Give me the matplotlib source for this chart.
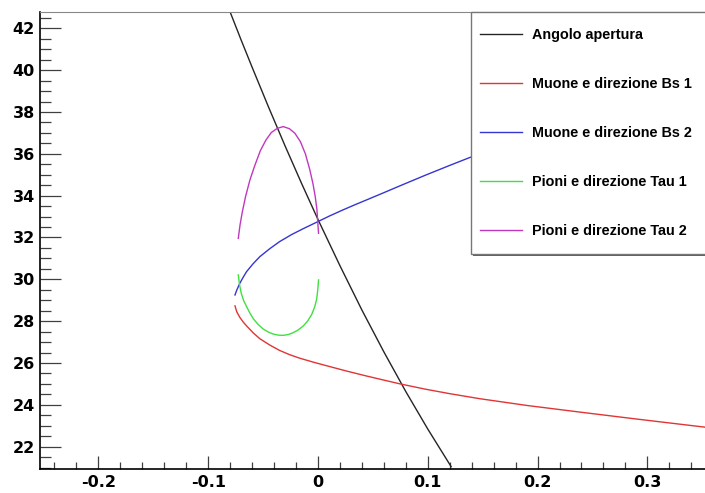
import matplotlib.pyplot as plt
from matplotlib.ticker import MultipleLocator
from matplotlib.patches import Rectangle

plt.rcParams['font.family'] = ['DejaVu Sans']
plt.rcParams['font.weight'] = 'bold'
plt.rcParams['axes.unicode_minus'] = False

# valori
x_angolo = [-0.0801, -0.0700, -0.0600, -0.0450, -0.0300, -0.0150, 0.0000, 0.0200, 0.0400,
            0.0600, 0.0800, 0.1000, 0.1213]
y_angolo = [42.79, 41.44, 40.14, 38.23, 36.38, 34.59, 32.86, 30.65, 28.53,
            26.53, 24.63, 22.84, 21.04]

x_bs1 = [-0.0756, -0.0740, -0.0712, -0.0680, -0.0650, -0.0590, -0.0530, -0.0440, -0.0350,
         -0.0260, -0.0168, -0.0030, 0.0105, 0.0270, 0.0439, 0.0600, 0.0747, 0.0975,
         0.1202, 0.1475, 0.1900, 0.2356, 0.2900, 0.3525]
y_bs1 = [28.73, 28.45, 28.18, 27.95, 27.77, 27.44, 27.16, 26.86, 26.60,
         26.40, 26.23, 26.02, 25.83, 25.60, 25.38, 25.18, 25.00, 24.75,
         24.53, 24.29, 23.97, 23.67, 23.32, 22.93]

x_bs2 = [-0.0756, -0.0740, -0.0712, -0.0680, -0.0650, -0.0590, -0.0530, -0.0440, -0.0350,
         -0.0240, -0.0123, 0.0000, 0.0110, 0.0220, 0.0330, 0.0440, 0.0590, 0.0747,
         0.0975, 0.1202, 0.1386, 0.1600]
y_bs2 = [29.25, 29.48, 29.81, 30.11, 30.37, 30.75, 31.08, 31.46, 31.80,
         32.14, 32.45, 32.76, 33.04, 33.30, 33.55, 33.79, 34.12, 34.47,
         34.97, 35.45, 35.83, 36.25]

x_tau1 = [-0.0726, -0.0715, -0.0699, -0.0677, -0.0650, -0.0620, -0.0590, -0.0545, -0.0498,
          -0.0450, -0.0407, -0.0360, -0.0316, -0.0270, -0.0225, -0.0180, -0.0134, -0.0095,
          -0.0057, -0.0030, -0.0012, -0.0002, 0.0005]
y_tau1 = [30.21, 29.75, 29.33, 28.98, 28.69, 28.38, 28.12, 27.84, 27.62,
          27.47, 27.38, 27.33, 27.32, 27.36, 27.45, 27.58, 27.77, 28.00,
          28.32, 28.68, 29.05, 29.50, 29.97]

x_tau2 = [-0.0726, -0.0710, -0.0690, -0.0660, -0.0620, -0.0575, -0.0525, -0.0475, -0.0425,
          -0.0370, -0.0316, -0.0260, -0.0210, -0.0160, -0.0115, -0.0075, -0.0045, -0.0025,
          -0.0010, 0.0005]
y_tau2 = [31.96, 32.60, 33.20, 33.95, 34.75, 35.45, 36.15, 36.65, 37.02,
          37.22, 37.30, 37.20, 36.98, 36.58, 36.00, 35.25, 34.55, 33.95,
          33.35, 32.20]

etichette = ['Angolo apertura', 'Muone e direzione Bs 1', 'Muone e direzione Bs 2',
             'Pioni e direzione Tau 1', 'Pioni e direzione Tau 2']
colori = ['#252525', '#e03535', '#3535d0', '#40e040', '#c038c0']

fig = plt.figure(figsize=(7.05, 4.93), dpi=100)
ax = fig.add_axes([40 / 705, 1 - 469 / 493, 1 - 40 / 705, (469 - 12) / 493])

serie = [(x_angolo, y_angolo), (x_bs1, y_bs1), (x_bs2, y_bs2), (x_tau1, y_tau1), (x_tau2, y_tau2)]
for (xs, ys), lab, c in zip(serie, etichette, colori):
    ax.plot(xs, ys, color=c, lw=1.0, label=lab)

ax.set_xlim(-0.2532, 0.3525)
ax.set_ylim(20.93, 42.78)

ax.xaxis.set_major_locator(MultipleLocator(0.1))
ax.xaxis.set_minor_locator(MultipleLocator(0.02))
ax.yaxis.set_major_locator(MultipleLocator(2))
ax.yaxis.set_minor_locator(MultipleLocator(0.5))
ax.xaxis.set_major_formatter(plt.FuncFormatter(lambda v, p: '0' if abs(v) < 1e-9 else '%g' % v))

ax.tick_params(axis='y', which='major', direction='in', length=15, width=0.9, color='#404040',
               labelsize=11.5, pad=3.6, right=False)
ax.tick_params(axis='y', which='minor', direction='in', length=7.6, width=0.9, color='#404040', right=False)
ax.tick_params(axis='x', which='major', direction='in', length=9.4, width=0.9, color='#404040',
               labelsize=11.5, pad=4.5, top=False)
ax.tick_params(axis='x', which='minor', direction='in', length=4.8, width=0.9, color='#404040', top=False)

ax.spines['right'].set_visible(False)
ax.spines['top'].set_color('#888888')
ax.spines['left'].set_linewidth(1.2)
ax.spines['bottom'].set_linewidth(1.2)

# riquadro della legenda con ombra
ombra = Rectangle((473 / 705, 1 - 256 / 493), 260 / 705, 244 / 493, transform=fig.transFigure,
                  facecolor='#606060', edgecolor='none', zorder=3.0, clip_on=False)
cornice = Rectangle((471 / 705, 1 - 254 / 493), 260 / 705, 242 / 493, transform=fig.transFigure,
                    facecolor='white', edgecolor='#777777', lw=1.0, zorder=3.1, clip_on=False)
ax.add_patch(ombra)
ax.add_patch(cornice)

leg = ax.legend(loc='upper left', bbox_to_anchor=(480 / 705, 1 - 28 / 493),
                bbox_transform=fig.transFigure, borderaxespad=0, borderpad=0,
                frameon=False, prop={'family': 'Liberation Sans', 'weight': 'bold', 'size': 10.4},
                handlelength=2.91, handletextpad=0.69, labelspacing=2.42)
leg.set_zorder(5)

fig.savefig('out.png', dpi=100)
